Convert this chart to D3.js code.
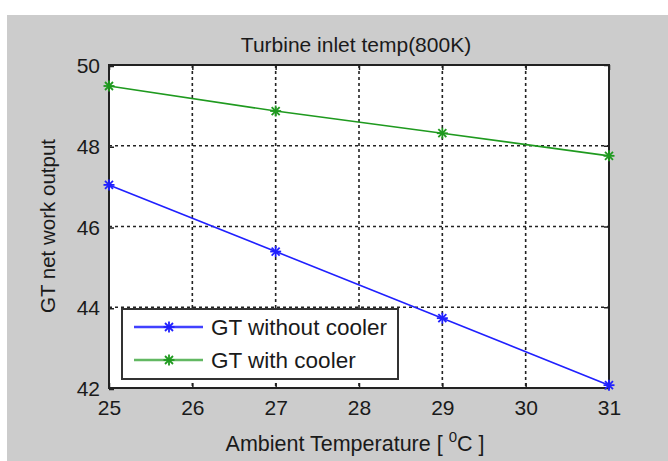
<!DOCTYPE html>
<html><head><meta charset="utf-8">
<script src="https://cdn.jsdelivr.net/npm/d3@7"></script>
<style>html,body{margin:0;padding:0;background:#fff;}svg{display:block;}text{font-family:"Liberation Sans",Arial,sans-serif;fill:#1a1a1a;}</style>
</head><body>
<script>
const temps = [25, 27, 29, 31];
const withoutCooler = [47.03, 45.38, 43.73, 42.07];
const withCooler = [49.48, 48.86, 48.31, 47.75];
const xTicks = [25, 26, 27, 28, 29, 30, 31];
const yTicks = [42, 44, 46, 48, 50];
const seriesNames = ["GT without cooler", "GT with cooler"];
const seriesColors = ["#2020ff", "#1f9a1f"];
const title = "Turbine inlet temp(800K)";
const yLabel = "GT net work output";

const W = 668, H = 461;
const svg = d3.select("body").append("svg").attr("width", W).attr("height", H);
svg.append("rect").attr("x", 7).attr("y", 15).attr("width", W - 7).attr("height", H - 15).attr("fill", "#cccccc");

const L = 109, R = 609, T = 65, B = 388;
const x = d3.scaleLinear().domain([25, 31]).range([L, R]);
const y = d3.scaleLinear().domain([42, 50]).range([B, T]);

svg.append("rect").attr("x", L).attr("y", T).attr("width", R - L).attr("height", B - T).attr("fill", "#fff");

// grid
const g = svg.append("g");
g.selectAll("line.gx").data(xTicks.slice(1, -1)).enter().append("line")
  .attr("x1", d => x(d)).attr("x2", d => x(d)).attr("y1", T).attr("y2", B)
  .attr("stroke", "#222").attr("stroke-width", 1.6).attr("stroke-dasharray", "3,3");
g.selectAll("line.gy").data(yTicks.slice(1, -1)).enter().append("line")
  .attr("y1", d => y(d)).attr("y2", d => y(d)).attr("x1", L).attr("x2", R)
  .attr("stroke", "#222").attr("stroke-width", 1.6).attr("stroke-dasharray", "3,3");

// axes with inner ticks
const axB = d3.axisBottom(x).tickValues(xTicks).tickSize(-5).tickPadding(12).tickFormat(d3.format("d"));
const axL = d3.axisLeft(y).tickValues(yTicks).tickSize(-5).tickPadding(9).tickFormat(d3.format("d"));
const axT = d3.axisTop(x).tickValues(xTicks).tickSize(-5).tickFormat("");
const axR = d3.axisRight(y).tickValues(yTicks).tickSize(-5).tickFormat("");
function style(sel) {
  sel.select(".domain").remove();
  sel.selectAll("line").attr("stroke", "#222").attr("stroke-width", 1.5);
  sel.selectAll("text").style("font-size", "21px").attr("fill", "#1a1a1a");
}
svg.append("g").attr("transform", `translate(0,${B})`).call(axB).call(style);
svg.append("g").attr("transform", `translate(0,1)`).append("g").attr("transform", `translate(${L},0)`).call(axL).call(style);
svg.append("g").attr("transform", `translate(0,${T})`).call(axT).call(style);
svg.append("g").attr("transform", `translate(${R},0)`).call(axR).call(style);
svg.append("rect").attr("x", L).attr("y", T).attr("width", R - L).attr("height", B - T)
  .attr("fill", "none").attr("stroke", "#222").attr("stroke-width", 2);

// series
function star(sel, cx, cy, color) {
  const r = 5.5, d = 4;
  const s = sel.append("g").attr("stroke", color).attr("stroke-width", 1.8);
  s.append("line").attr("x1", cx - r).attr("x2", cx + r).attr("y1", cy).attr("y2", cy);
  s.append("line").attr("x1", cx).attr("x2", cx).attr("y1", cy - r).attr("y2", cy + r);
  s.append("line").attr("x1", cx - d).attr("x2", cx + d).attr("y1", cy - d).attr("y2", cy + d);
  s.append("line").attr("x1", cx - d).attr("x2", cx + d).attr("y1", cy + d).attr("y2", cy - d);
}
const line = d3.line().x(d => x(d[0])).y(d => y(d[1]));
[withoutCooler, withCooler].forEach((vals, i) => {
  const pts = temps.map((t, j) => [t, vals[j]]);
  svg.append("path").datum(pts).attr("d", line).attr("fill", "none")
    .attr("stroke", seriesColors[i]).attr("stroke-width", 1.6);
  pts.forEach(p => star(svg, x(p[0]), y(p[1]), seriesColors[i]));
});

// legend
const lg = svg.append("g");
lg.append("rect").attr("x", 122).attr("y", 309).attr("width", 276).attr("height", 70)
  .attr("fill", "#fff").attr("stroke", "#333").attr("stroke-width", 2);
seriesNames.forEach((n, i) => {
  const yy = 327 + i * 33;
  lg.append("line").attr("x1", 134).attr("x2", 203).attr("y1", yy).attr("y2", yy)
    .attr("stroke", seriesColors[i]).attr("stroke-width", 2.5).attr("stroke-opacity", i ? 0.7 : 0.85);
  star(lg, 169, yy, seriesColors[i]);
  lg.append("text").attr("x", 211).attr("y", yy + 8).style("font-size", "22.5px").text(n);
});

// title and labels
svg.append("text").attr("x", 356).attr("y", 52).attr("text-anchor", "middle")
  .style("font-size", "21px").text(title);
const xl = svg.append("text").attr("x", 355).attr("y", 451).attr("text-anchor", "middle").style("font-size", "21.5px");
xl.append("tspan").text("Ambient Temperature [ ");
xl.append("tspan").attr("dy", -9).style("font-size", "15px").text("0");
xl.append("tspan").attr("dy", 9).text("C ]");
svg.append("text").attr("transform", "translate(55,226) rotate(-90)").attr("text-anchor", "middle")
  .style("font-size", "20.5px").text(yLabel);
</script>
</body></html>
